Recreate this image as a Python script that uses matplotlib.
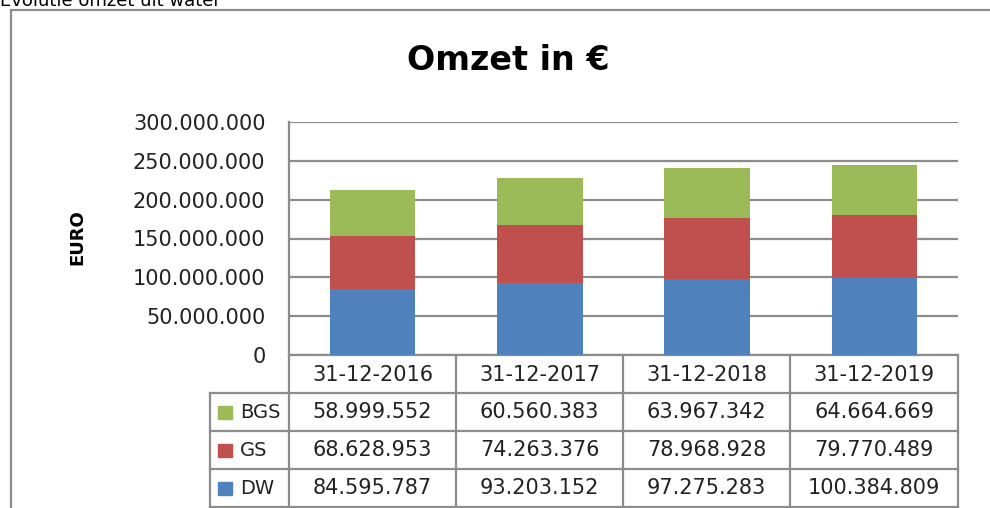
import matplotlib.pyplot as plt
from matplotlib.patches import Rectangle

dates = ['31-12-2016', '31-12-2017', '31-12-2018', '31-12-2019']
dw = [84595787, 93203152, 97275283, 100384809]
gs = [68628953, 74263376, 78968928, 79770489]
bgs = [58999552, 60560383, 63967342, 64664669]
yticks = [0, 50000000, 100000000, 150000000, 200000000, 250000000, 300000000]

blue = '#4F81BD'
red = '#C0504D'
green = '#9BBB59'
grey = '#8C8C8C'

W, H = 990, 508


def fx(x):
    return x / W


def fy(y):
    return 1 - y / H


def dots(v):
    return f'{v:,}'.replace(',', '.')


fig = plt.figure(figsize=(9.9, 5.08), dpi=100)

# outer frame of the chart
fig.add_artist(Rectangle((fx(11), fy(540)), fx(1000 - 11), 530 / H, fill=False,
                         ec=grey, lw=1.6, transform=fig.transFigure))
fig.text(fx(0), fy(1), 'Evolutie omzet uit water', fontsize=13, ha='left', va='center')

fig.text(fx(508), fy(60), 'Omzet in €', fontsize=24, fontweight='bold', ha='center', va='center')
fig.text(fx(77), fy(237), 'EURO', fontsize=13, fontweight='bold', rotation=90,
         ha='center', va='center')

# plot area
L, R, T, B = 289, 958, 122, 355
ax = fig.add_axes([fx(L), fy(B), fx(R - L), (B - T) / H])
x = range(len(dates))
w = 0.51
ax.bar(x, dw, w, color=blue, zorder=3)
ax.bar(x, gs, w, bottom=dw, color=red, zorder=3)
bottom2 = [a + b for a, b in zip(dw, gs)]
ax.bar(x, bgs, w, bottom=bottom2, color=green, zorder=3)

ax.set_xlim(-0.5, len(dates) - 0.5)
ax.set_ylim(0, 300000000)
ax.set_yticks(yticks)
ax.set_yticklabels([dots(v) for v in yticks], fontsize=15, color='#222222')
ax.tick_params(axis='y', length=0, pad=17)
ax.set_xticks([])
for s in ['top', 'right']:
    ax.spines[s].set_visible(False)
ax.spines['left'].set_color(grey)
ax.spines['left'].set_linewidth(1.6)
ax.spines['bottom'].set_color(grey)
ax.spines['bottom'].set_linewidth(1.6)
ax.grid(axis='y', color=grey, lw=1.6, zorder=0)

# data table below the plot
cols = [289, 456, 623, 790, 958]
rows = [355, 393, 431, 469, 507]
line_kw = dict(color=grey, lw=1.6, transform=fig.transFigure)
for c in cols:
    fig.add_artist(plt.Line2D([fx(c), fx(c)], [fy(355), fy(510)], **line_kw))
fig.add_artist(plt.Line2D([fx(210), fx(210)], [fy(393), fy(510)], **line_kw))
for r in rows[1:]:
    fig.add_artist(plt.Line2D([fx(210), fx(958)], [fy(r), fy(r)], **line_kw))

for i, d in enumerate(dates):
    cx = (cols[i] + cols[i + 1]) / 2
    fig.text(fx(cx), fy(375), d, fontsize=15, ha='center', va='center', color='#222222')

series = [('BGS', bgs, green), ('GS', gs, red), ('DW', dw, blue)]
for j, (name, vals, col) in enumerate(series):
    cy = (rows[j + 1] + rows[j + 2]) / 2
    fig.add_artist(Rectangle((fx(218), fy(cy + 7)), fx(14), 13 / H, color=col,
                             transform=fig.transFigure))
    fig.text(fx(240), fy(cy), name, fontsize=14, ha='left', va='center', color='#222222')
    for i, v in enumerate(vals):
        cx = (cols[i] + cols[i + 1]) / 2
        fig.text(fx(cx), fy(cy), dots(v), fontsize=15, ha='center', va='center', color='#222222')

fig.savefig('out.png', dpi=100)
